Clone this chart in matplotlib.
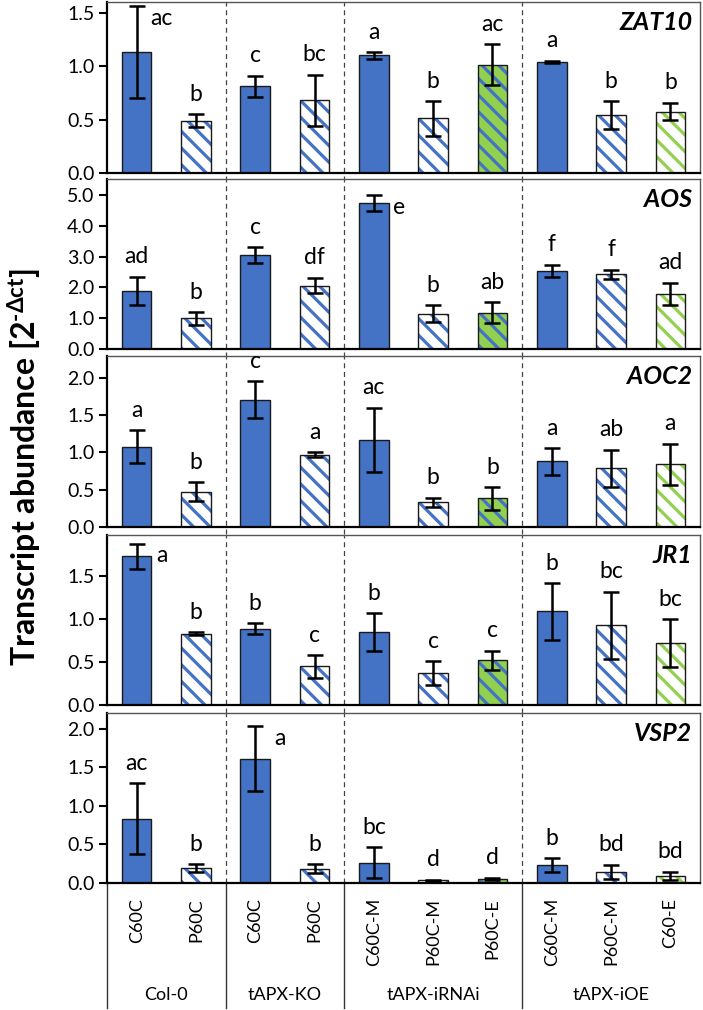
import matplotlib
matplotlib.use('Agg')
import matplotlib.pyplot as plt
import numpy as np

plt.rcParams['font.family'] = ['Lato', 'DejaVu Sans']
plt.rcParams['mathtext.fontset'] = 'custom'
plt.rcParams['mathtext.rm'] = 'Lato:bold'
plt.rcParams['mathtext.bf'] = 'Lato:bold'
plt.rcParams['mathtext.it'] = 'Lato:italic'
plt.rcParams['mathtext.fallback'] = 'stixsans'
plt.rcParams['hatch.linewidth'] = 2.3

# ---------------- data ----------------
categories = ['C60C', 'P60C', 'C60C', 'P60C', 'C60C-M', 'P60C-M', 'P60C-E',
              'C60C-M', 'P60C-M', 'C60-E']
groups = ['Col-0', 'tAPX-KO', 'tAPX-iRNAi', 'tAPX-iOE']
group_sizes = [2, 2, 3, 3]
genes = ['ZAT10', 'AOS', 'AOC2', 'JR1', 'VSP2']
bar_styles = ['solid', 'hatch', 'solid', 'hatch', 'solid', 'hatch', 'green_blue',
              'solid', 'hatch', 'green_hatch']

zat10 = [1.13, 0.49, 0.81, 0.68, 1.10, 0.51, 1.015, 1.04, 0.54, 0.575]
zat10_err = [0.43, 0.06, 0.10, 0.24, 0.03, 0.16, 0.19, 0.01, 0.13, 0.08]
zat10_let = ['ac', 'b', 'c', 'bc', 'a', 'b', 'ac', 'a', 'b', 'b']

aos = [1.89, 1.00, 3.05, 2.06, 4.74, 1.15, 1.19, 2.54, 2.43, 1.80]
aos_err = [0.45, 0.20, 0.25, 0.25, 0.25, 0.27, 0.33, 0.20, 0.15, 0.36]
aos_let = ['ad', 'b', 'c', 'df', 'e', 'b', 'ab', 'f', 'f', 'ad']

aoc2 = [1.08, 0.47, 1.71, 0.97, 1.17, 0.33, 0.38, 0.88, 0.79, 0.84]
aoc2_err = [0.22, 0.13, 0.25, 0.03, 0.43, 0.06, 0.15, 0.18, 0.25, 0.28]
aoc2_let = ['a', 'b', 'c', 'a', 'ac', 'b', 'b', 'a', 'ab', 'a']

jr1 = [1.73, 0.83, 0.89, 0.45, 0.85, 0.37, 0.52, 1.09, 0.93, 0.72]
jr1_err = [0.15, 0.02, 0.06, 0.13, 0.22, 0.14, 0.11, 0.33, 0.39, 0.28]
jr1_let = ['a', 'b', 'b', 'c', 'b', 'c', 'c', 'b', 'bc', 'bc']

vsp2 = [0.83, 0.19, 1.61, 0.18, 0.26, 0.03, 0.05, 0.23, 0.14, 0.09]
vsp2_err = [0.46, 0.05, 0.42, 0.06, 0.20, 0.01, 0.015, 0.09, 0.09, 0.05]
vsp2_let = ['ac', 'b', 'a', 'b', 'bc', 'd', 'd', 'b', 'bd', 'bd']

# letters placed to the right of the error bar instead of above it
right_letters = {0: [0], 1: [4], 3: [0], 4: [2]}

values = [zat10, aos, aoc2, jr1, vsp2]
errors = [zat10_err, aos_err, aoc2_err, jr1_err, vsp2_err]
letters = [zat10_let, aos_let, aoc2_let, jr1_let, vsp2_let]
y_max = [1.6, 5.5, 2.3, 1.98, 2.2]
y_ticks = [[0, 0.5, 1.0, 1.5], [0, 1, 2, 3, 4, 5], [0, 0.5, 1.0, 1.5, 2.0],
           [0, 0.5, 1.0, 1.5], [0, 0.5, 1.0, 1.5, 2.0]]

# ---------------- style ----------------
BLUE = '#4472C4'
GREEN = '#92D050'
EDGE = '#1a1a1a'
W, H = 703, 1010
panel_px = [(2, 173), (179.3, 349.3), (356, 526.7), (535, 705), (713.3, 882.7)]
left_px, right_px = 107, 700

fig = plt.figure(figsize=(W / 100, H / 100), dpi=100)
x = np.arange(len(categories))
bounds = np.cumsum(group_sizes)[:-1] - 0.5

axes = []
for i, (top, bot) in enumerate(panel_px):
    ax = fig.add_axes([left_px / W, 1 - bot / H, (right_px - left_px) / W, (bot - top) / H])
    axes.append(ax)
    vals = values[i]
    errs = errors[i]
    for j, st in enumerate(bar_styles):
        if st == 'solid':
            ax.bar(x[j], vals[j], 0.5, color=BLUE, edgecolor=EDGE, linewidth=1, zorder=2)
        else:
            if st == 'hatch':
                fc, hc = 'white', BLUE
            elif st == 'green_blue':
                fc, hc = GREEN, BLUE
            else:
                fc, hc = 'white', GREEN
            ax.bar(x[j], vals[j], 0.5, color=fc, linewidth=0, zorder=2)
            ax.bar(x[j], vals[j], 0.5, fill=False, edgecolor=hc, hatch='\\\\',
                   linewidth=0, zorder=2.1)
            ax.bar(x[j], vals[j], 0.5, fill=False, edgecolor=EDGE, linewidth=1, zorder=2.2)
    ax.errorbar(x, vals, yerr=errs, fmt='none', ecolor='black', elinewidth=1.8,
                capsize=5.5, capthick=1.8, zorder=3)
    for j, lab in enumerate(letters[i]):
        top_v = vals[j] + errs[j]
        if j in right_letters.get(i, []):
            ax.annotate(lab, (x[j], top_v), xytext=(25, -12), textcoords='offset pixels',
                        ha='center', va='center', fontsize=16.5, zorder=4)
        else:
            ax.annotate(lab, (x[j], top_v), xytext=(0, 20), textcoords='offset pixels',
                        ha='center', va='center', fontsize=16.5, zorder=4)
    ax.set_xlim(-0.5, len(categories) - 0.5)
    ax.set_ylim(0, y_max[i])
    ax.set_yticks(y_ticks[i])
    ax.set_yticklabels(['%.1f' % t for t in y_ticks[i]])
    ax.tick_params(axis='y', direction='out', length=6, width=1.5, labelsize=14, pad=3)
    for b in bounds:
        ax.axvline(b, ymin=(-0.045 if i < 4 else 0), ymax=1, color='#444444', lw=0.9,
                   linestyle=(0, (4, 3)), clip_on=False, zorder=1)
    ax.spines['left'].set_linewidth(1.6)
    ax.spines['left'].set_color('black')
    ax.spines['bottom'].set_linewidth(1.6)
    ax.spines['bottom'].set_color('black')
    for s in ['top', 'right']:
        ax.spines[s].set_linewidth(1.0)
        ax.spines[s].set_color('#555555')
    ax.text(0.987, 0.88, genes[i], transform=ax.transAxes, ha='right', va='center',
            fontsize=18, fontweight='bold', fontstyle='italic')
    if i < 4:
        ax.set_xticks([])
    else:
        ax.set_xticks(x)
        ax.set_xticklabels(categories, rotation=90, va='top', fontsize=13)
        ax.tick_params(axis='x', length=0, pad=11)

ax5 = axes[-1]
trans = ax5.get_xaxis_transform()
for b in [-0.5] + list(bounds):
    ax5.plot([b, b], [0, -0.74], transform=trans, color='#333333', lw=1.0, clip_on=False)
starts = np.concatenate([[0], np.cumsum(group_sizes)[:-1]])
for g, s, n in zip(groups, starts, group_sizes):
    ax5.text(s + (n - 1) / 2, -0.665, g, transform=trans, ha='center', va='center',
             fontsize=13)

fig.text(25 / W, 1 - 467 / H, r'Transcript abundance [2$^{\text{-}\Delta \mathrm{ct}}$]',
         rotation=90, ha='center', va='center', fontsize=23, fontweight='bold')

fig.savefig('out.png', dpi=100)
